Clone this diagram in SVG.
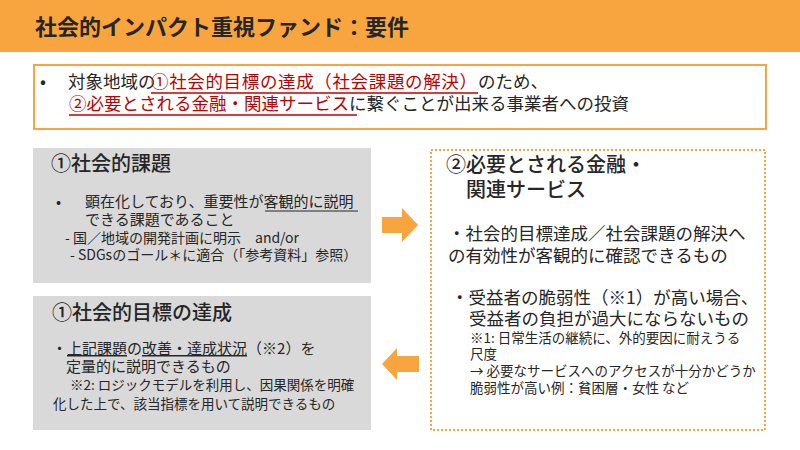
<svg xmlns="http://www.w3.org/2000/svg" width="800" height="450" viewBox="0 0 800 450">
<style>
text{font-family:"Noto Sans CJK JP","Noto Sans",sans-serif;fill:#262626}
.h{font-size:22px;font-weight:700}
.lead{font-size:17.5px}
.red{fill:#C00000}
.t{font-size:20px;font-weight:500}
.b{font-size:15px}
.bb{font-size:17.5px}
.s{font-size:13.5px}
.s2{font-size:14px}
.ul{stroke:#262626;stroke-width:1}
.rul{stroke:#C00000;stroke-width:1.5}
.gray{fill:#D9D9D9}
.arrow{fill:#F9A53F}
</style>
<rect x="0" y="0" width="800" height="52" fill="#F9A53F"/>
<text class="h" x="35" y="35">社会的インパクト重視ファンド：要件</text>

<g id="lead">
<rect x="34" y="65" width="732" height="64" fill="#fff" stroke="#F9A53F" stroke-width="2"/>
<text class="lead" x="40" y="88">•</text>
<text class="lead" x="68" y="88">対象地域の</text>
<text class="lead red" x="151" y="88" textLength="326" lengthAdjust="spacing">①社会的目標の達成（社会課題の解決）</text>
<text class="lead" x="478" y="88">のため、</text>
<text class="lead" x="69" y="110"><tspan class="red">②必要とされる金融・関連サービス</tspan>に繋ぐことが出来る事業者への投資</text>
<line class="rul" x1="151" y1="93" x2="478" y2="93"/>
<line class="rul" x1="69" y1="115" x2="357" y2="115"/>
</g>

<g id="node1">
<rect class="gray" x="33" y="148" width="338" height="135"/>
<text class="t" x="51" y="171">①社会的課題</text>
<text class="b" x="56" y="207">•</text>
<text class="b" x="85" y="207">顕在化しており、重要性が客観的に説明</text>
<line class="ul" x1="265" y1="211" x2="358" y2="211"/>
<text class="b" x="85" y="225">できる課題であること</text>
<text class="s2" x="65" y="243">- 国／地域の開発計画に明示　and/or</text>
<text class="s2" x="70" y="260">- SDGsのゴール＊に適合（「参考資料」参照）</text>
</g>

<g id="node2">
<rect class="gray" x="33" y="296" width="338" height="134"/>
<text class="t" x="52" y="320">①社会的目標の達成</text>
<text class="b" x="52" y="354">・<tspan text-decoration="underline">上記課題</tspan>の<tspan text-decoration="underline">改善・達成状況</tspan>（※2）を</text>
<text class="b" x="66" y="372">定量的に説明できるもの</text>
<text class="s" x="70" y="390">※2: ロジックモデルを利用し、因果関係を明確</text>
<text class="s" x="53" y="409">化した上で、該当指標を用いて説明できるもの</text>
</g>

<g id="node3">
<rect x="431" y="150" width="334" height="280" fill="#fff" stroke="#F9A53F" stroke-width="2" stroke-dasharray="2 2"/>
<text class="t" x="446" y="172">②必要とされる金融・</text>
<text class="t" x="466" y="197">関連サービス</text>
<text class="bb" x="448" y="240">・社会的目標達成／社会課題の解決へ</text>
<text class="bb" x="448" y="262">の有効性が客観的に確認できるもの</text>
<text class="bb" x="451" y="304">・受益者の脆弱性（※1）が高い場合、</text>
<text class="bb" x="469" y="325">受益者の負担が過大にならないもの</text>
<text class="s" x="470" y="343">※1: 日常生活の継続に、外的要因に耐えうる</text>
<text class="s" x="470" y="359">尺度</text>
<text class="s" x="470" y="376"> → 必要なサービスへのアクセスが十分かどうか</text>
<text class="s" x="470" y="393">脆弱性が高い例：貧困層・女性 など</text>
</g>

<g id="connectors">
<polygon class="arrow" points="382,217 402,217 402,208 418,225 402,242 402,233 382,233"/>
<polygon class="arrow" points="419,356 397,356 397,348 382,364 397,380 397,372 419,372"/>
</g>
</svg>
